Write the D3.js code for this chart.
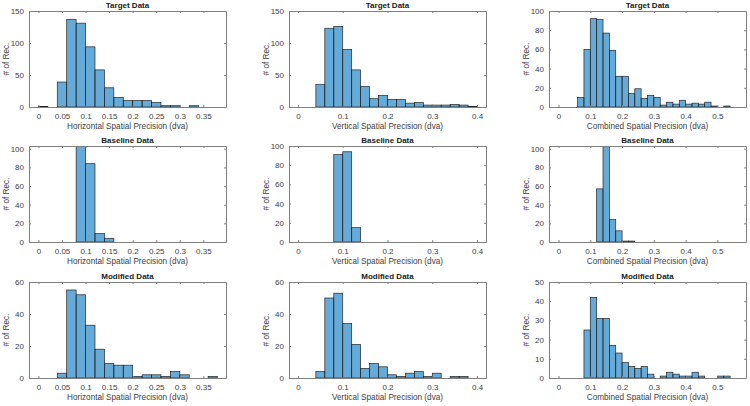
<!DOCTYPE html>
<html>
<head>
<meta charset="utf-8">
<script src="https://cdn.jsdelivr.net/npm/d3@7"></script>
<style>
    body { margin: 0; background: #fff; }
    svg text { font-family: "Liberation Sans", Arial, Helvetica, sans-serif; }
</style>
</head>
<body>
<script>
// counts per 0.02-wide bin, first bin starts at 0
var binWidth = 0.02;

var targetHorizontal = [1, 0, 39, 137, 131, 94, 58, 30, 15, 10, 10, 10, 7, 2, 2, 0, 2];
var targetVertical = [0, 0, 35, 123, 126, 90, 58, 32, 13, 18, 12, 12, 6, 7, 3, 3, 3, 4, 3, 1];
var targetCombined = [0, 0, 0, 10, 60, 92, 91, 77, 59, 32, 32, 14, 19, 9, 12, 10, 2, 5, 3, 7, 3, 4, 3, 5, 1, 0, 1];

var baselineHorizontal = [0, 0, 0, 0, 125, 84, 9, 4];
var baselineVertical = [0, 0, 0, 0, 91, 94, 15];
var baselineCombined = [0, 0, 0, 0, 0, 0, 57, 125, 24, 12, 1, 1];

var modifiedHorizontal = [0, 0, 3, 55, 52, 33, 18, 9, 8, 8, 1, 2, 2, 1, 4, 2, 0, 0, 1];
var modifiedVertical = [0, 0, 4, 50, 53, 34, 21, 6, 9, 7, 2, 1, 3, 4, 1, 3, 0, 1, 1];
var modifiedCombined = [0, 0, 0, 0, 25, 42, 31, 31, 17, 13, 8, 6, 5, 6, 2, 0, 1, 3, 2, 1, 1, 3, 1, 0, 0, 1, 1];

var rowTitles = ["Target Data", "Baseline Data", "Modified Data"];
var colLabels = ["Horizontal Spatial Precision (dva)",
                 "Vertical Spatial Precision (dva)",
                 "Combined Spatial Precision (dva)"];

var xDomains = [[-0.02, 0.398], [-0.02, 0.42], [-0.03, 0.59]];
var xTicks = [[0, 0.05, 0.1, 0.15, 0.2, 0.25, 0.3, 0.35],
              [0, 0.1, 0.2, 0.3, 0.4],
              [0, 0.1, 0.2, 0.3, 0.4, 0.5]];

var yMaxes = [[150, 150, 100], [103, 100, 103], [60, 60, 50]];
var yTicks = [[[0, 50, 100, 150], [0, 50, 100, 150], [0, 20, 40, 60, 80, 100]],
              [[0, 20, 40, 60, 80, 100], [0, 20, 40, 60, 80, 100], [0, 20, 40, 60, 80, 100]],
              [[0, 20, 40, 60], [0, 20, 40, 60], [0, 10, 20, 30, 40, 50]]];

var counts = [[targetHorizontal, targetVertical, targetCombined],
              [baselineHorizontal, baselineVertical, baselineCombined],
              [modifiedHorizontal, modifiedVertical, modifiedCombined]];

var width = 750,
    height = 406,
    boxLefts = [29, 289, 549],
    boxTops = [11, 146, 282],
    boxWidth = 197,
    boxHeight = 96,
    tickLen = 2,
    axisColor = "#808080",
    textColor = "#404040",
    barFill = "rgb(0,114,189)",
    barEdge = "#262626";

var svg = d3.select("body").append("svg")
            .attr("width", width)
            .attr("height", height);

var fmt = function(d) { return d3.format("")(+d.toFixed(2)); };

function drawPanel(r, c) {
    var x = d3.scaleLinear().domain(xDomains[c]).range([0, boxWidth]),
        y = d3.scaleLinear().domain([0, yMaxes[r][c]]).range([boxHeight, 0]),
        bins = counts[r][c].map(function(v, i) {
            return {x0: i * binWidth, x1: (i + 1) * binWidth, n: v};
        }).filter(function(d) { return d.n > 0; });

    var g = svg.append("g")
               .attr("transform", "translate(" + boxLefts[c] + "," + boxTops[r] + ")");

    var clipId = "clip" + r + c;
    g.append("clipPath").attr("id", clipId)
     .append("rect")
     .attr("width", boxWidth)
     .attr("height", boxHeight);

    g.append("g")
     .attr("clip-path", "url(#" + clipId + ")")
     .selectAll("rect")
     .data(bins)
     .enter()
     .append("rect")
     .attr("x", function(d) { return x(d.x0); })
     .attr("width", function(d) { return x(d.x1) - x(d.x0); })
     .attr("y", function(d) { return y(d.n); })
     .attr("height", function(d) { return y(0) - y(d.n); })
     .style("fill", barFill)
     .style("fill-opacity", 0.6)
     .style("stroke", barEdge)
     .style("stroke-width", 0.7);

    // axes: bottom/left with labels, top/right ticks only (box on)
    var bottom = g.append("g")
                  .attr("transform", "translate(0," + boxHeight + ")")
                  .call(d3.axisBottom(x).tickValues(xTicks[c]).tickSizeInner(-tickLen)
                          .tickSizeOuter(0).tickPadding(6).tickFormat(fmt));
    var top = g.append("g")
               .call(d3.axisTop(x).tickValues(xTicks[c]).tickSizeInner(-tickLen)
                       .tickSizeOuter(0).tickFormat(""));
    var left = g.append("g")
                .call(d3.axisLeft(y).tickValues(yTicks[r][c]).tickSizeInner(-tickLen)
                        .tickSizeOuter(0).tickPadding(5));
    var right = g.append("g")
                 .attr("transform", "translate(" + boxWidth + ",0)")
                 .call(d3.axisRight(y).tickValues(yTicks[r][c]).tickSizeInner(-tickLen)
                         .tickSizeOuter(0).tickFormat(""));

    [bottom, top, left, right].forEach(function(a) {
        a.select(".domain").style("stroke", axisColor).style("stroke-width", 1);
        a.selectAll(".tick line").style("stroke", axisColor);
        a.selectAll("text").style("fill", textColor).style("font-size", "8px");
    });

    g.append("text")
     .attr("x", boxWidth / 2)
     .attr("y", -3)
     .attr("text-anchor", "middle")
     .style("font-size", "8px")
     .style("font-weight", "bold")
     .style("fill", "#1a1a1a")
     .text(rowTitles[r]);

    g.append("text")
     .attr("x", boxWidth / 2)
     .attr("y", boxHeight + 22)
     .attr("text-anchor", "middle")
     .style("font-size", "8.2px")
     .style("fill", textColor)
     .text(colLabels[c]);

    g.append("text")
     .attr("transform", "translate(" + (-20) + "," + (boxHeight / 2) + ") rotate(-90)")
     .attr("text-anchor", "middle")
     .style("font-size", "8.2px")
     .style("fill", textColor)
     .text("# of Rec.");
}

for (var r = 0; r < 3; r += 1) {
    for (var c = 0; c < 3; c += 1) {
        drawPanel(r, c);
    }
}
</script>
</body>
</html>
